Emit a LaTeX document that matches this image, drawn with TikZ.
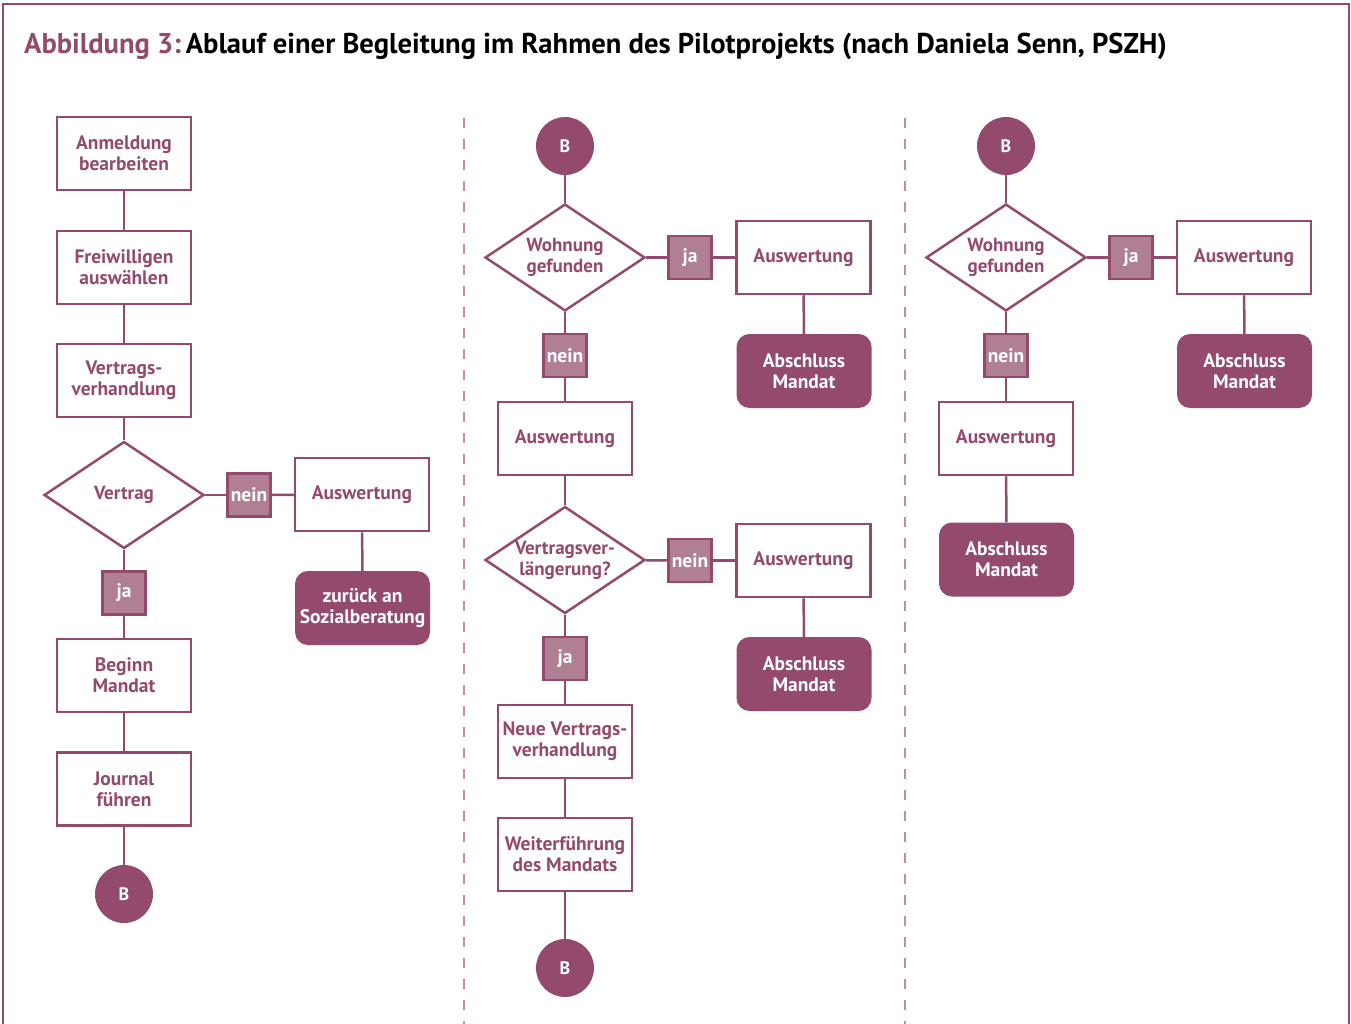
\documentclass[tikz,border=0pt]{standalone}
\usepackage{fontspec}
\setmainfont{PT Sans}
\usetikzlibrary{shapes.geometric}
\definecolor{pm}{HTML}{934A6C}
\definecolor{pl}{HTML}{B07F93}
\definecolor{pd}{HTML}{C48DA5}
\begin{document}
\begin{tikzpicture}[x=1pt,y=-1pt,
  every node/.style={font=\bfseries\fontsize{19.5}{21}\selectfont},
  box/.style={rectangle,draw=pm,line width=2.5pt,minimum width=134pt,minimum height=73pt,text=pm,align=center,inner sep=2pt},
  endbox/.style={rectangle,rounded corners=13pt,fill=pm,minimum width=135pt,minimum height=74pt,text=white,align=center,inner sep=2pt},
  lab/.style={rectangle,draw=pm,fill=pl,line width=2.5pt,minimum size=43pt,inner sep=0pt,text=white},
  dia/.style={diamond,draw=pm,line width=2.5pt,minimum width=160pt,minimum height=107pt,inner sep=0pt,shape aspect=1.5},
  dtext/.style={text=pm,align=center,font=\bfseries\fontsize{19}{21}\selectfont},
  bcirc/.style={circle,fill=pm,minimum size=58pt,inner sep=0pt,text=white,font=\bfseries\fontsize{18}{19}\selectfont},
  conn/.style={draw=pm,line width=2.5pt},
  sep/.style={draw=pd,line width=2.5pt,dash pattern=on 10pt off 11pt}]
\useasboundingbox (0,0) rectangle (1351,1024);
% frame
\draw[pm,line width=1.5pt] (3,1024) -- (3,4) -- (1349,4) -- (1349,1024);
% title
\node[anchor=base west,inner sep=0pt,font=\bfseries\fontsize{28.6}{30}\selectfont] (title) at (24,54)
  {\textcolor{pm}{Abbildung 3:}\,Ablauf einer Begleitung im Rahmen des Pilotprojekts (nach Daniela Senn, PSZH)};
% separators
\coordinate (s1t) at (464,118); \coordinate (s1b) at (464,1024);
\coordinate (s2t) at (905,118); \coordinate (s2b) at (905,1024);
\draw[sep] (s1t) -- (s1b);
\draw[sep] (s2t) -- (s2b);

% column 1
\node[box] (a1) at (124,153.5) {Anmeldung\\bearbeiten};
\node[box] (a2) at (124,267.5) {Freiwilligen\\auswählen};
\node[box] (a3) at (124,380.5) {Vertrags-\\verhandlung};
\node[dia,label={[dtext]center:Vertrag}] (a4) at (124,495) {};
\node[lab] (a5) at (249,495) {nein};
\node[box] (a6) at (362,494.5) {Auswertung};
\node[endbox] (a7) at (362.5,608) {zurück an\\Sozialberatung};
\node[lab] (a8) at (124,593) {ja};
\node[box] (a9) at (124,675.5) {Beginn\\Mandat};
\node[box] (a10) at (124,789) {Journal\\führen};
\node[bcirc] (a11) at (124,894) {B};
\draw[conn] (a1) -- (a2);
\draw[conn] (a2) -- (a3);
\draw[conn] (a3) -- (a4);
\draw[conn] (a4) -- (a5);
\draw[conn] (a5) -- (a6);
\draw[conn] (a6) -- (a7);
\draw[conn] (a4) -- (a8);
\draw[conn] (a8) -- (a9);
\draw[conn] (a9) -- (a10);
\draw[conn] (a10) -- (a11);

% column 2
\node[bcirc] (b1) at (565,146) {B};
\node[dia,label={[dtext]center:Wohnung\\gefunden}] (b2) at (565,257.5) {};
\node[lab] (b3) at (690,257.5) {ja};
\node[box] (b4) at (803.5,257.5) {Auswertung};
\node[endbox] (b5) at (804,371) {Abschluss\\Mandat};
\node[lab] (b6) at (565,355.5) {nein};
\node[box] (b7) at (565,438.5) {Auswertung};
\node[dia,label={[dtext]center:Vertragsver-\\längerung?}] (b8) at (565,560) {};
\node[lab] (b9) at (690,560.5) {nein};
\node[box] (b10) at (803.5,560.5) {Auswertung};
\node[endbox] (b11) at (804,674) {Abschluss\\Mandat};
\node[lab] (b12) at (565,658.5) {ja};
\node[box] (b13) at (565,741.5) {Neue Vertrags-\\verhandlung};
\node[box] (b14) at (565,854.5) {Weiterführung\\des Mandats};
\node[bcirc] (b15) at (565,968) {B};
\draw[conn] (b1) -- (b2);
\draw[conn] (b2) -- (b3);
\draw[conn] (b3) -- (b4);
\draw[conn] (b4) -- (b5);
\draw[conn] (b2) -- (b6);
\draw[conn] (b6) -- (b7);
\draw[conn] (b7) -- (b8);
\draw[conn] (b8) -- (b9);
\draw[conn] (b9) -- (b10);
\draw[conn] (b10) -- (b11);
\draw[conn] (b8) -- (b12);
\draw[conn] (b12) -- (b13);
\draw[conn] (b13) -- (b14);
\draw[conn] (b14) -- (b15);

% column 3
\node[bcirc] (c1) at (1006,146) {B};
\node[dia,label={[dtext]center:Wohnung\\gefunden}] (c2) at (1006,257.5) {};
\node[lab] (c3) at (1131,257.5) {ja};
\node[box] (c4) at (1244,257.5) {Auswertung};
\node[endbox] (c5) at (1244.5,371) {Abschluss\\Mandat};
\node[lab] (c6) at (1006,355.5) {nein};
\node[box] (c7) at (1006,438.5) {Auswertung};
\node[endbox] (c8) at (1006.5,559.5) {Abschluss\\Mandat};
\draw[conn] (c1) -- (c2);
\draw[conn] (c2) -- (c3);
\draw[conn] (c3) -- (c4);
\draw[conn] (c4) -- (c5);
\draw[conn] (c2) -- (c6);
\draw[conn] (c6) -- (c7);
\draw[conn] (c7) -- (c8);
\end{tikzpicture}
\end{document}
